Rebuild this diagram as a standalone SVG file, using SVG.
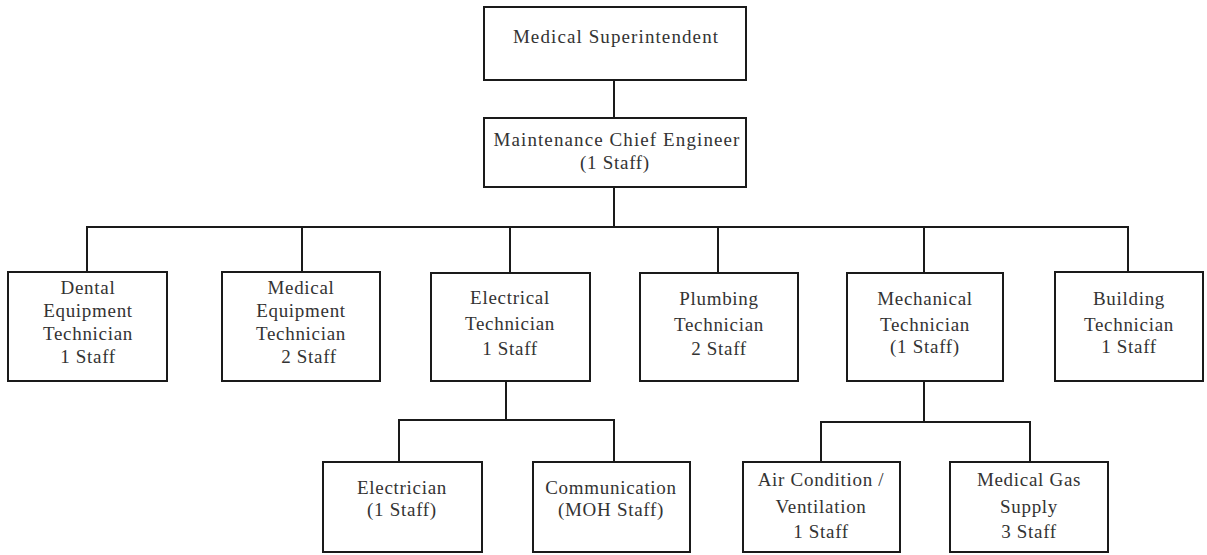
<svg xmlns="http://www.w3.org/2000/svg" width="1207" height="555" viewBox="0 0 1207 555">
<style>
.box{fill:#fff;stroke:#1a1a1a;stroke-width:2}
.ln{fill:none;stroke:#1a1a1a;stroke-width:2}
text{font-family:"Liberation Serif","Times New Roman",serif;font-size:19px;letter-spacing:0.7px;fill:#333;text-anchor:middle}
.top{letter-spacing:1.1px}
</style>
<rect width="1207" height="555" fill="#fff"/>
<g id="connectors">
<path class="ln" d="M614 80V118"/>
<path class="ln" d="M614 187V227"/>
<path class="ln" d="M87 272V227H1128V272"/>
<path class="ln" d="M302 227V272"/>
<path class="ln" d="M510 227V273"/>
<path class="ln" d="M718 227V273"/>
<path class="ln" d="M924 227V273"/>
<path class="ln" d="M506 381V420"/>
<path class="ln" d="M399 462V420H614V462"/>
<path class="ln" d="M924 381V422"/>
<path class="ln" d="M821 462V422H1030V462"/>
</g>
<g id="medical-superintendent">
<rect class="box" x="484" y="7" width="262" height="73"/>
<text class="top" x="616" y="43">Medical Superintendent</text>
</g>
<g id="maintenance-chief-engineer">
<rect class="box" x="484" y="118" width="262" height="69"/>
<text class="top" x="617" y="146">Maintenance Chief Engineer</text>
<text x="615" y="169">(1 Staff)</text>
</g>
<g id="dental-equipment-technician">
<rect class="box" x="8" y="272" width="159" height="109"/>
<text x="88" y="294">Dental</text>
<text x="88" y="317">Equipment</text>
<text x="88" y="340">Technician</text>
<text x="88" y="363">1 Staff</text>
</g>
<g id="medical-equipment-technician">
<rect class="box" x="222" y="272" width="158" height="109"/>
<text x="301" y="294">Medical</text>
<text x="301" y="317">Equipment</text>
<text x="301" y="340">Technician</text>
<text x="309" y="363">2 Staff</text>
</g>
<g id="electrical-technician">
<rect class="box" x="431" y="273" width="159" height="108"/>
<text x="510" y="304">Electrical</text>
<text x="510" y="330">Technician</text>
<text x="510" y="355">1 Staff</text>
</g>
<g id="plumbing-technician">
<rect class="box" x="640" y="273" width="158" height="108"/>
<text x="719" y="305">Plumbing</text>
<text x="719" y="331">Technician</text>
<text x="719" y="355">2 Staff</text>
</g>
<g id="mechanical-technician">
<rect class="box" x="847" y="273" width="156" height="108"/>
<text x="925" y="305">Mechanical</text>
<text x="925" y="331">Technician</text>
<text x="925" y="353">(1 Staff)</text>
</g>
<g id="building-technician">
<rect class="box" x="1055" y="272" width="148" height="109"/>
<text x="1129" y="305">Building</text>
<text x="1129" y="331">Technician</text>
<text x="1129" y="353">1 Staff</text>
</g>
<g id="electrician">
<rect class="box" x="323" y="462" width="159" height="90"/>
<text x="402" y="494">Electrician</text>
<text x="402" y="516">(1 Staff)</text>
</g>
<g id="communication">
<rect class="box" x="533" y="462" width="157" height="90"/>
<text x="611" y="494">Communication</text>
<text x="611" y="516">(MOH Staff)</text>
</g>
<g id="air-condition-ventilation">
<rect class="box" x="743" y="462" width="157" height="90"/>
<text x="821" y="486">Air Condition /</text>
<text x="821" y="513">Ventilation</text>
<text x="821" y="538">1 Staff</text>
</g>
<g id="medical-gas-supply">
<rect class="box" x="950" y="462" width="158" height="90"/>
<text x="1029" y="486">Medical Gas</text>
<text x="1029" y="513">Supply</text>
<text x="1029" y="538">3 Staff</text>
</g>
</svg>
